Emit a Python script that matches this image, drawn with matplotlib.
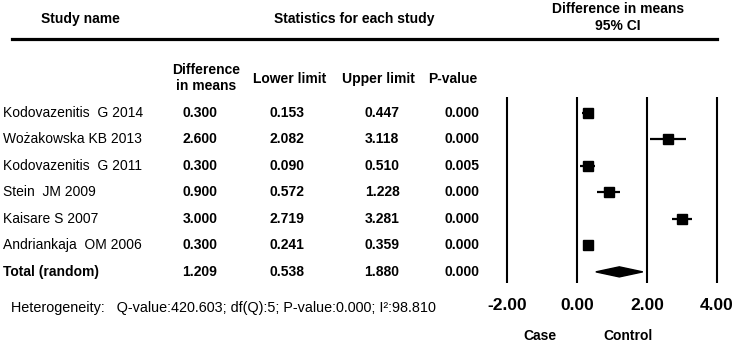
import matplotlib
matplotlib.use("Agg")
import matplotlib.pyplot as plt
from matplotlib.lines import Line2D
from matplotlib.transforms import blended_transform_factory

plt.rcParams['font.family'] = ['Liberation Sans', 'DejaVu Sans']

# data
studies = ["Kodovazenitis  G 2014", "Wożakowska KB 2013", "Kodovazenitis  G 2011",
           "Stein  JM 2009", "Kaisare S 2007", "Andriankaja  OM 2006"]
diff = [0.300, 2.600, 0.300, 0.900, 3.000, 0.300]
lower = [0.153, 2.082, 0.090, 0.572, 2.719, 0.241]
upper = [0.447, 3.118, 0.510, 1.228, 3.281, 0.359]
pvals = [0.000, 0.000, 0.005, 0.000, 0.000, 0.000]
total_label = "Total (random)"
total = (1.209, 0.538, 1.880, 0.000)
ticks = [-2, 0, 2, 4]
heterogeneity = "Heterogeneity:   Q-value:420.603; df(Q):5; P-value:0.000; I²:98.810"

W, H = 737, 343
fig = plt.figure(figsize=(W / 100, H / 100), dpi=100)


def fx(px):
    return px / W


def fy(py):
    return 1 - py / H


# forest plot panel: x from -2 to 4, rows 0..6 (row 6 = total)
ax = fig.add_axes([fx(507), fy(283), fx(717) - fx(507), (283 - 97) / H])
ax.set_xlim(-2, 4)
ax.set_ylim(6.42, -0.6)
for s in ax.spines.values():
    s.set_visible(False)
ax.set_yticks([])
ax.set_xticks(ticks)
ax.set_xticklabels(["%.2f" % t for t in ticks], fontsize=12.5, fontweight='bold')
ax.tick_params(axis='x', length=0, pad=11)

ax.vlines(ticks, 6.42, -0.6, color='black', lw=1.5, clip_on=False)

rows = list(range(len(studies)))
ax.hlines(rows, lower, upper, color='black', lw=1.6)
ax.plot(diff, rows, 's', color='black', ms=7.3, mec='black')

# summary diamond
ty = len(studies)
est, lo, hi, _ = total
ax.fill([lo, est, hi, est], [ty, ty - 0.19, ty, ty + 0.19], color='black')

# table text, x in figure fraction, y in row units
tr = blended_transform_factory(fig.transFigure, ax.transData)
col_x = [200, 287, 382, 462]
for i, name in enumerate(studies):
    ax.text(fx(3), i, name, transform=tr, ha='left', va='center', fontsize=10, clip_on=False)
    vals = [diff[i], lower[i], upper[i], pvals[i]]
    for x, v in zip(col_x, vals):
        ax.text(fx(x), i, "%.3f" % v, transform=tr, ha='center', va='center',
                fontsize=10, fontweight='bold', clip_on=False)
ax.text(fx(3), ty, total_label, transform=tr, ha='left', va='center',
        fontsize=10, fontweight='bold', clip_on=False)
for x, v in zip(col_x, total):
    ax.text(fx(x), ty, "%.3f" % v, transform=tr, ha='center', va='center',
            fontsize=10, fontweight='bold', clip_on=False)

# headers
bold = dict(fontsize=10, fontweight='bold', ha='center', va='center')
fig.text(fx(80), fy(19), "Study name", **bold)
fig.text(fx(354), fy(19), "Statistics for each study", **bold)
fig.text(fx(618), fy(17.5), "Difference in means\n95% CI", multialignment='center', **bold)
fig.text(fx(206), fy(78), "Difference\nin means", multialignment='center', **bold)
fig.text(fx(290), fy(79), "Lower limit", **bold)
fig.text(fx(378), fy(79), "Upper limit", **bold)
fig.text(fx(453), fy(79), "P-value", **bold)

fig.add_artist(Line2D([fx(12), fx(717)], [fy(39), fy(39)], color='black', lw=2.3))

fig.text(fx(11), fy(308), heterogeneity, fontsize=10.4, ha='left', va='center')
fig.text(fx(540), fy(336), "Case", **bold)
fig.text(fx(628), fy(336), "Control", **bold)

fig.savefig("out.png", dpi=100)
